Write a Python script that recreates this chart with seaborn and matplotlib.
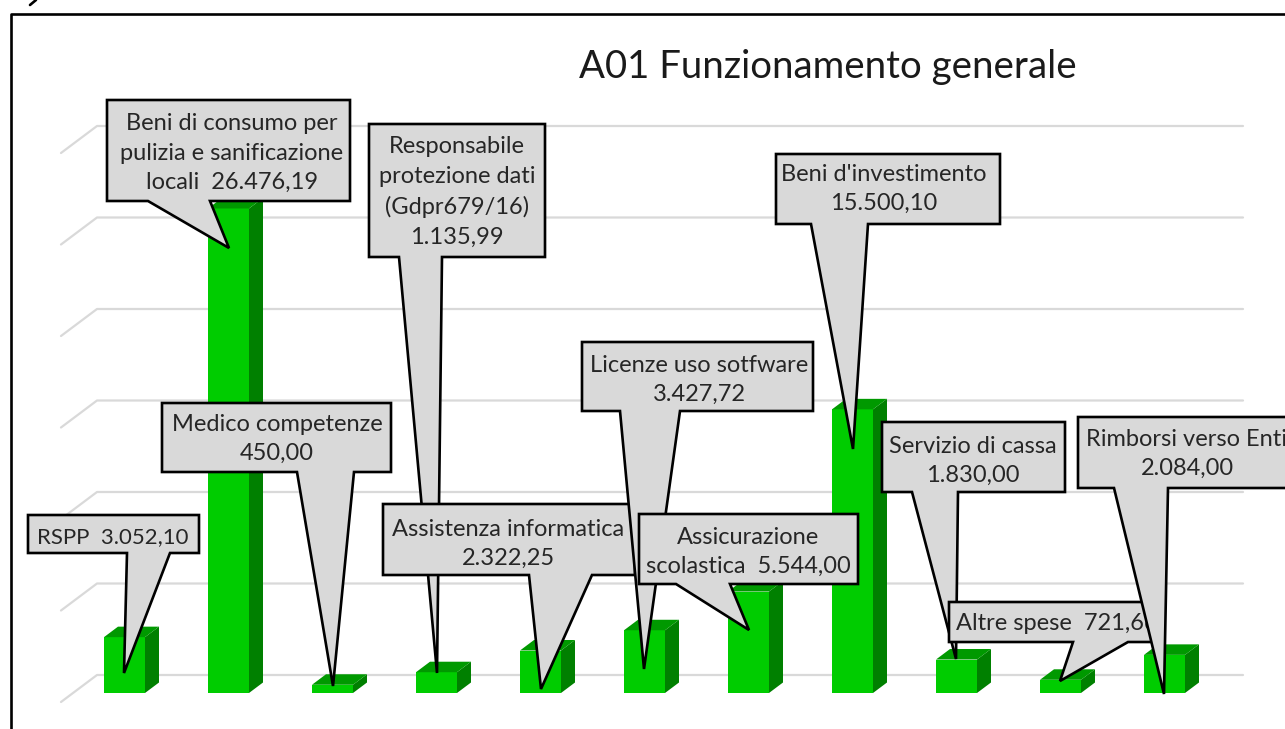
import matplotlib
matplotlib.use("Agg")
import matplotlib.pyplot as plt
from matplotlib.patches import Polygon
from matplotlib.transforms import Affine2D
import seaborn as sns

# ---- data ----
categories = ["RSPP", "Beni di consumo", "Medico competenze", "Responsabile protezione dati",
              "Assistenza informatica", "Licenze uso sotfware", "Assicurazione scolastica",
              "Beni d'investimento", "Servizio di cassa", "Altre spese", "Rimborsi verso Enti"]
values = [3052.10, 26476.19, 450.00, 1135.99, 2322.25, 3427.72, 5544.00, 15500.10, 1830.00, 721.66, 2084.00]
labels = ["RSPP  3.052,10",
          "Beni di consumo per\npulizia e sanificazione\nlocali  26.476,19",
          "Medico competenze\n450,00",
          "Responsabile\nprotezione dati\n(Gdpr679/16)\n1.135,99",
          "Assistenza informatica\n2.322,25",
          "Licenze uso sotfware\n3.427,72",
          "Assicurazione\nscolastica  5.544,00",
          "Beni d'investimento\n15.500,10",
          "Servizio di cassa\n1.830,00",
          "Altre spese  721,66",
          "Rimborsi verso Enti\n2.084,00"]
grid_values = [0, 5000, 10000, 15000, 20000, 25000, 30000]
title = "A01 Funzionamento generale"

# ---- layout (pixels, origin top-left) ----
W, H = 1285, 729
boxes = [(28, 515, 199, 553), (107, 100, 350, 201), (162, 403, 391, 472), (369, 124, 545, 257),
         (383, 504, 635, 575), (582, 342, 813, 411), (639, 514, 858, 584), (776, 154, 1000, 224),
         (882, 422, 1065, 492), (949, 602, 1160, 642), (1078, 417, 1300, 488)]
tails = [(127, 170, 124, 673), (148, 210, 229, 248), (297, 354, 333, 686), (399, 442, 437, 673),
         (529, 592, 541, 689), (620, 680, 644, 669), (676, 730, 749, 630), (811, 868, 853, 449),
         (912, 958, 956, 659), (1073, 1128, 1060, 681), (1114, 1168, 1164, 694)]
text_pos = [(113, 537), (232, 153), (277, 439), (457, 192), (508, 544), (699, 380), (748, 552),
            (884, 189), (973, 461), (1057, 624), (1187, 454)]
font_sizes = [16, 17, 17, 17, 17, 17, 17, 17, 17, 17, 17]

SCALE = 0.0183      # px per euro
BASE = 693          # px of zero line at the front of the bars
X0, STEP = 124.5, 104
DX, DY = 14, 10.5   # 3D depth in px

sns.set_theme(style="white")
plt.rcParams["font.family"] = ["Lato", "DejaVu Sans"]
fig = plt.figure(figsize=(W / 100, H / 100), dpi=100)
ax = fig.add_axes([0, 0, 1, 1])

sns.barplot(x=categories, y=values, color="#00CC00", saturation=1, width=41 / STEP,
            ax=ax, zorder=3, linewidth=0)
ax.set_xlim(-X0 / STEP, (W - X0) / STEP)
ax.set_ylim(-(H - BASE) / SCALE, BASE / SCALE)
ax.axis("off")

ddx, ddy = DX / STEP, DY / SCALE
for b in list(ax.patches):
    x0, x1, h = b.get_x(), b.get_x() + b.get_width(), b.get_height()
    ax.add_patch(Polygon([(x1, 0), (x1 + ddx, ddy), (x1 + ddx, h + ddy), (x1, h)],
                         fc="#008000", ec="none", zorder=3))
    ax.add_patch(Polygon([(x0, h), (x0 + ddx, h + ddy), (x1 + ddx, h + ddy), (x1, h)],
                         fc="#009900", ec="none", zorder=3))

# grid on the back wall and on the side wall
gx = [(61 - X0) / STEP, (97 - X0) / STEP, (1243 - X0) / STEP]
for v in grid_values:
    ax.plot(gx, [v - 9 / SCALE, v + 18 / SCALE, v + 18 / SCALE], color="#D9D9D9", lw=1.6,
            zorder=1, solid_joinstyle="round")

# pixel coordinates -> display
px = Affine2D().scale(1, -1).translate(0, H)

# chart frame
frame = dict(transform=px, color="black", lw=1.9, clip_on=False, zorder=30)
ax.plot([11, 11, W], [H, 14, 14], **frame)
ax.plot([30, 36], [5, 0], **frame)

ax.text(827.5, 67, title, transform=px, ha="center", va="center", fontsize=27.6, color="#1a1a1a")

for i, (lab, (l, t, r, btm), (a, c, tx, ty), (cx, cy), fs) in enumerate(
        zip(labels, boxes, tails, text_pos, font_sizes)):
    z = 10 + i
    outline = [(l, t), (r, t), (r, btm), (c, btm), (tx, ty), (a, btm), (l, btm)]
    ax.add_patch(Polygon(outline, closed=True, transform=px, fc="#D9D9D9", ec="black", lw=1.9,
                         joinstyle="miter", zorder=z, clip_on=True))
    ax.text(cx, cy, lab, transform=px, ha="center", va="center", fontsize=fs, color="#262626",
            linespacing=1.5, zorder=z + 0.5, clip_on=True)

fig.savefig("out.png", dpi=100)
